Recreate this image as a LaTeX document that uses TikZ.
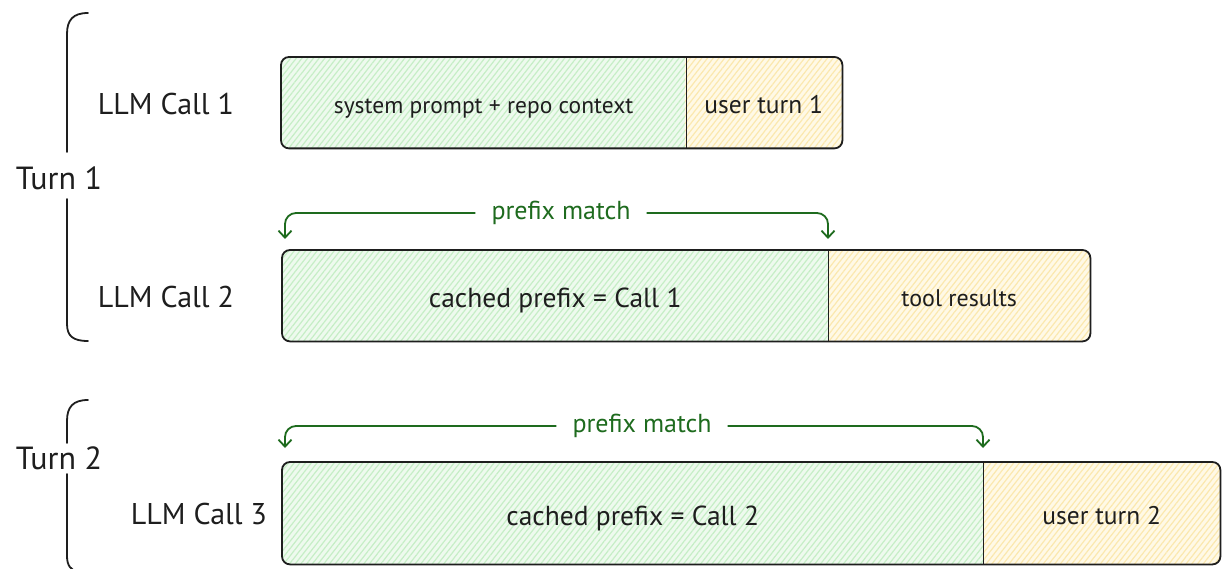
\documentclass[tikz,border=0pt]{standalone}
\usepackage{fontspec}
\setmainfont{PT Sans}
\usetikzlibrary{arrows.meta,patterns.meta}
\definecolor{ink}{HTML}{1E1E1E}
\definecolor{gfill}{HTML}{EEFAEE}
\definecolor{ghatch}{HTML}{C6EEC6}
\definecolor{yfill}{HTML}{FFF9E6}
\definecolor{yhatch}{HTML}{FBE8AE}
\definecolor{arrowgreen}{HTML}{1E6B1E}
\tikzset{
  seg/.style={rectangle, inner sep=0pt, anchor=north west, text=ink, text depth=0pt},
  greenseg/.style={seg, preaction={fill=gfill}, pattern={Lines[angle=52,distance=4.5pt,line width=1.2pt]}, pattern color=ghatch},
  yellowseg/.style={seg, preaction={fill=yfill}, pattern={Lines[angle=52,distance=4.5pt,line width=1.2pt]}, pattern color=yhatch},
  boxline/.style={draw=ink, line width=1.8pt, rounded corners=8pt},
  divline/.style={draw=ink, line width=1.4pt},
  calllabel/.style={text=ink, font=\fontsize{30}{34}\selectfont, inner sep=0pt},
  turnlabel/.style={text=ink, font=\fontsize{32}{36}\selectfont, inner sep=0pt},
  bracel/.style={draw=ink, line width=1.8pt, line cap=round},
  pmlabel/.style={text=arrowgreen, font=\fontsize{26}{30}\selectfont, inner xsep=16pt, inner ysep=0pt},
  pmarrow/.style={draw=arrowgreen, line width=1.8pt, rounded corners=11pt, -{Straight Barb[length=7pt,width=13pt,line width=1.8pt]}},
  smalltext/.style={font=\fontsize{23.5}{27}\selectfont, text height=21pt},
  usertext/.style={font=\fontsize{25.5}{29}\selectfont, text height=22.5pt},
  bigtext/.style={font=\fontsize{27.5}{31}\selectfont, text height=24pt},
  midtext/.style={font=\fontsize{24}{28}\selectfont, text height=21.5pt}
}
\begin{document}
\begin{tikzpicture}[x=1pt,y=-1pt]
\fill[white] (0,0) rectangle (1222,569);
\useasboundingbox (0,0) rectangle (1222,569);

% ---------- Box 1 ----------
\begin{scope}
\clip[rounded corners=8pt] (281,57) rectangle (842,148);
\node[greenseg, smalltext, minimum width=404pt, minimum height=91pt] (b1g) at (281,57) {system prompt + repo context};
\node[yellowseg, usertext, minimum width=157pt, minimum height=91pt] (b1y) at (685,57) {user turn 1};
\end{scope}
\draw[boxline] (b1g.north west) rectangle (b1y.south east);
\draw[divline] (b1g.north east) -- (b1g.south east);

% ---------- Box 2 ----------
\begin{scope}
\clip[rounded corners=8pt] (282,250) rectangle (1090,341);
\node[greenseg, bigtext, minimum width=546pt, minimum height=91pt] (b2g) at (282,250) {cached prefix = Call 1};
\node[yellowseg, midtext, minimum width=262pt, minimum height=91pt] (b2y) at (828,250) {tool results};
\end{scope}
\draw[boxline] (b2g.north west) rectangle (b2y.south east);
\draw[divline] (b2g.north east) -- (b2g.south east);

% ---------- Box 3 ----------
\begin{scope}
\clip[rounded corners=8pt] (282,462) rectangle (1220,564);
\node[greenseg, bigtext, minimum width=701pt, minimum height=102pt] (b3g) at (282,462) {cached prefix = Call 2};
\node[yellowseg, usertext, minimum width=237pt, minimum height=102pt] (b3y) at (983,462) {user turn 2};
\end{scope}
\draw[boxline] (b3g.north west) rectangle (b3y.south east);
\draw[divline] (b3g.north east) -- (b3g.south east);

% ---------- Call labels ----------
\node[calllabel] (c1) at (166,104) {LLM Call 1};
\node[calllabel] (c2) at (166,297) {LLM Call 2};
\node[calllabel] (c3) at (199,514) {LLM Call 3};

% ---------- Turn labels and braces ----------
\node[turnlabel] (t1) at (59,178) {Turn 1};
\node[turnlabel] (t2) at (59,458) {Turn 2};
\draw[bracel] (88,13) .. controls (73,13) and (67,20) .. (67,34) -- (67,152);
\draw[bracel] (67,199) -- (67,324) .. controls (67,336) and (73,341) .. (88,341);
\draw[bracel] (88,400) .. controls (73,400) and (67,407) .. (67,421) -- (67,443);
\draw[bracel] (67,474) -- (67,556) .. controls (67,566) and (71,570) .. (78,572);

% ---------- Prefix match arrows ----------
\node[pmlabel] (pm1) at (561,213) {prefix match};
\coordinate (pm1l) at (285,239);
\coordinate (pm1r) at (828,239);
\draw[pmarrow] (pm1.west |- 0,213) -| (pm1l);
\draw[pmarrow] (pm1.east |- 0,213) -| (pm1r);

\node[pmlabel] (pm2) at (642,426) {prefix match};
\coordinate (pm2l) at (285,448);
\coordinate (pm2r) at (983,448);
\draw[pmarrow] (pm2.west |- 0,426) -| (pm2l);
\draw[pmarrow] (pm2.east |- 0,426) -| (pm2r);
\end{tikzpicture}
\end{document}
